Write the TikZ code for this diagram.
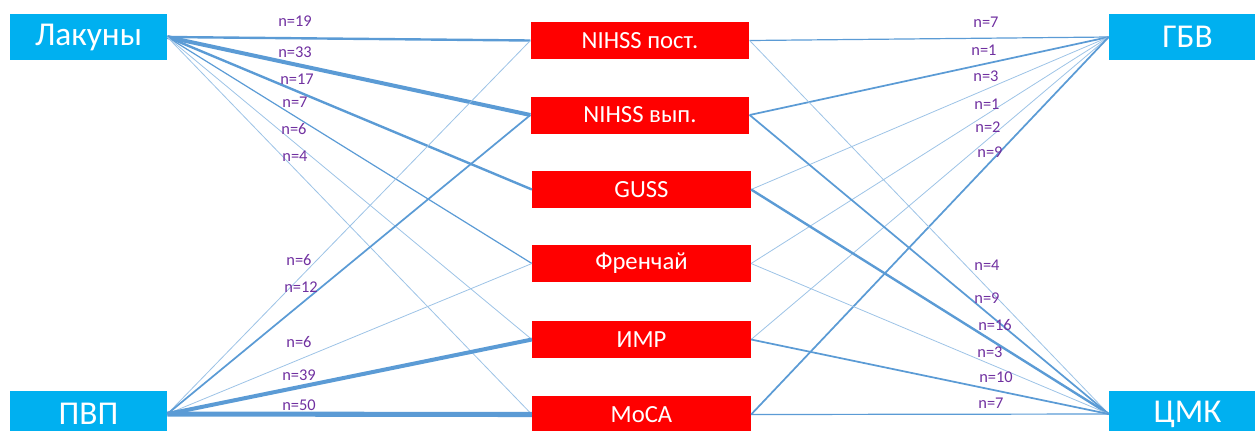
\documentclass[tikz,border=0pt]{standalone}
\usepackage{fontspec}
\setmainfont{Carlito}
\definecolor{boxblue}{HTML}{00B0F0}
\definecolor{boxred}{HTML}{FF0000}
\definecolor{linkblue}{HTML}{5B9BD5}
\definecolor{linklight}{HTML}{9DC3E6}
\definecolor{lblpurple}{HTML}{7030A0}
\tikzset{
  groupbox/.style={fill=boxblue, draw=none, text=white, font=\fontsize{25}{27}\selectfont,
    minimum width=117.75pt, minimum height=34.5pt, inner sep=0pt},
  scalebox/.style={fill=boxred, draw=none, text=white, font=\fontsize{18.5}{20}\selectfont,
    minimum width=164pt, minimum height=27.75pt, inner sep=0pt},
  nlabel/.style={text=lblpurple, font=\fontsize{12.3}{14}\selectfont, inner sep=0pt},
  lk/.style={draw=linklight, line width=0.6pt},
  lm/.style={draw=linkblue, line width=0.9pt},
  lh/.style={draw=linkblue, line width=1.3pt},
  lw/.style={draw=linkblue, line width=1.8pt},
  lt/.style={draw=linkblue, line width=3pt},
  lx/.style={draw=linkblue, line width=3.8pt},
}
\begin{document}
\begin{tikzpicture}[x=0.75pt,y=-0.75pt]
\useasboundingbox (0,0) rectangle (1255,430);
% group boxes
\node[groupbox] (lak) at (88.5,37) {Лакуны};
\node[groupbox] (pvp) at (88.5,414) {ПВП};
\node[groupbox] (gbv) at (1187.5,37) {ГБВ};
\node[groupbox] (cmk) at (1187.5,414) {ЦМК};
% scale boxes
\node[scalebox] (n1) at (640,40.5) {NIHSS пост.};
\node[scalebox] (n2) at (640,115) {NIHSS вып.};
\node[scalebox] (gu) at (641.5,189.5) {GUSS};
\node[scalebox] (fr) at (641.5,263.5) {Френчай};
\node[scalebox] (im) at (641.5,339.5) {ИМР};
\node[scalebox] (mo) at (641.5,414.5) {МоСА};
% links Лакуны
\draw[lw] (lak.east) -- (n1.west);
\draw[lt] (lak.east) -- (n2.west);
\draw[lw] (lak.east) -- (gu.west);
\draw[lm] (lak.east) -- (fr.west);
\draw[lk] (lak.east) -- (im.west);
\draw[lk] (lak.east) -- (mo.west);
% links ПВП
\draw[lk] (pvp.east) -- (n1.west);
\draw[lh] (pvp.east) -- (n2.west);
\draw[lk] (pvp.east) -- (fr.west);
\draw[lt] (pvp.east) -- (im.west);
\draw[lx] (pvp.east) -- (mo.west);
% links ГБВ
\draw[lm] (n1.east) -- (gbv.west);
\draw[lh] (n2.east) -- (gbv.west);
\draw[lk] (gu.east) -- (gbv.west);
\draw[lk] (fr.east) -- (gbv.west);
\draw[lk] (im.east) -- (gbv.west);
\draw[lh] (mo.east) -- (gbv.west);
% links ЦМК
\draw[lk] (n1.east) -- (cmk.west);
\draw[lh] (n2.east) -- (cmk.west);
\draw[lw] (gu.east) -- (cmk.west);
\draw[lk] (fr.east) -- (cmk.west);
\draw[lh] (im.east) -- (cmk.west);
\draw[lm] (mo.east) -- (cmk.west);
% labels left
\node[nlabel] (l1) at (295,21) {n=19};
\node[nlabel] (l2) at (295,52) {n=33};
\node[nlabel] (l3) at (297,79) {n=17};
\node[nlabel] (l4) at (295,102) {n=7};
\node[nlabel] (l5) at (294,129) {n=6};
\node[nlabel] (l6) at (295,156) {n=4};
\node[nlabel] (p1) at (299,260) {n=6};
\node[nlabel] (p2) at (301,287) {n=12};
\node[nlabel] (p3) at (299,342) {n=6};
\node[nlabel] (p4) at (299,375) {n=39};
\node[nlabel] (p5) at (299,405) {n=50};
% labels right
\node[nlabel] (g1) at (986,22) {n=7};
\node[nlabel] (g2) at (984,50) {n=1};
\node[nlabel] (g3) at (986,76) {n=3};
\node[nlabel] (g4) at (987,104) {n=1};
\node[nlabel] (g5) at (988,127) {n=2};
\node[nlabel] (g6) at (990,152) {n=9};
\node[nlabel] (c1) at (987,265) {n=4};
\node[nlabel] (c2) at (987,298) {n=9};
\node[nlabel] (c3) at (995,325) {n=16};
\node[nlabel] (c4) at (990,352) {n=3};
\node[nlabel] (c5) at (996,377) {n=10};
\node[nlabel] (c6) at (991,403) {n=7};
\end{tikzpicture}
\end{document}
